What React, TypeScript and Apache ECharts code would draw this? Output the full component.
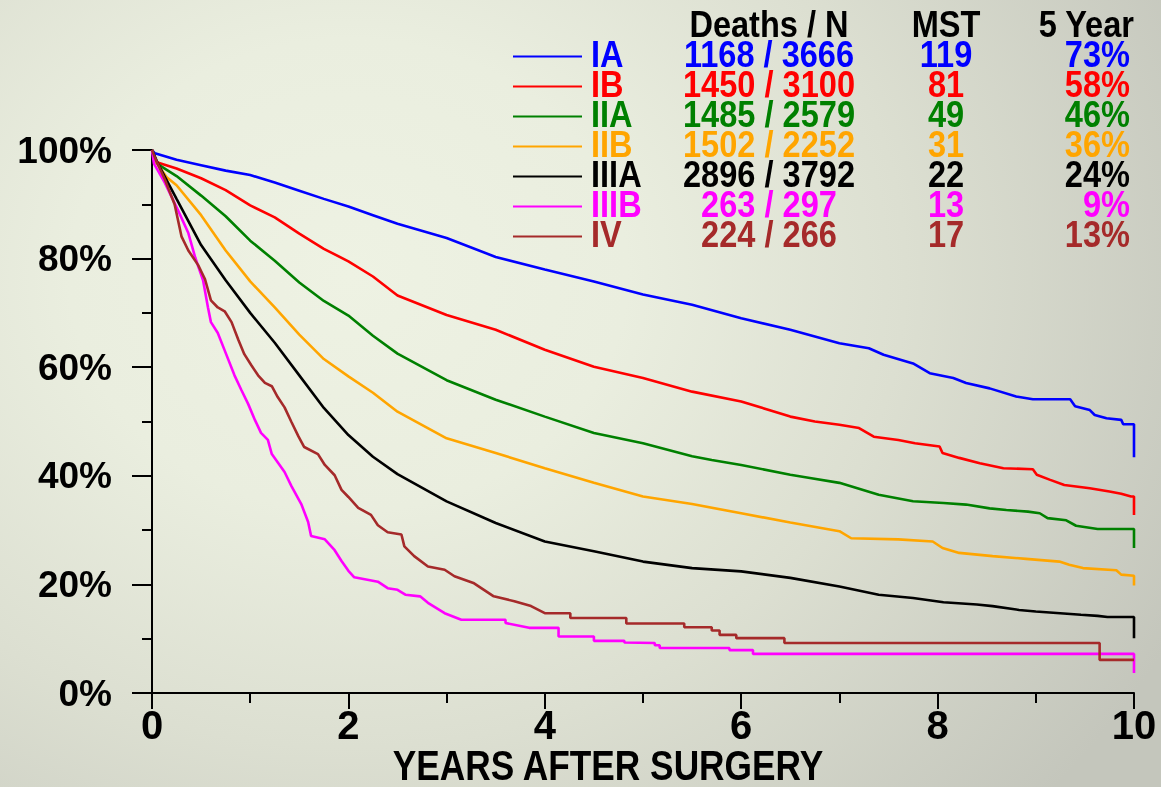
import React, { useEffect, useRef } from "react";
import * as echarts from "echarts";

// ---------- DATA ----------
const stages = ["IA", "IB", "IIA", "IIB", "IIIA", "IIIB", "IV"];
const stageColors = ["#0000ff", "#ff0000", "#008000", "#ffa500", "#000000", "#ff00ff", "#a52a2a"];
const deathsN = ["1168 / 3666", "1450 / 3100", "1485 / 2579", "1502 / 2252", "2896 / 3792", "263 / 297", "224 / 266"];
const mst = ["119", "81", "49", "31", "22", "13", "17"];
const fiveYear = ["73%", "58%", "46%", "36%", "24%", "9%", "13%"];
const headers = ["Deaths / N", "MST", "5 Year"];
const xAxisTitle = "YEARS AFTER SURGERY";

const survIA = [[0,100],[0.03,99.4],[0.25,98.2],[0.5,97.2],[0.75,96.2],[1,95.4],[1.25,94.0],[1.5,92.5],[1.75,91.0],[2,89.6],[2.25,88.0],[2.5,86.4],[3,83.8],[3.5,80.3],[4,78.0],[4.5,75.8],[5,73.4],[5.5,71.5],[6,69.0],[6.5,66.9],[7,64.4],[7.3,63.5],[7.45,62.3],[7.75,60.7],[7.92,58.9],[8.16,58.0],[8.29,57.1],[8.53,56.1],[8.8,54.6],[8.97,54.1],[9.35,54.1],[9.4,52.8],[9.55,52.1],[9.6,51.2],[9.72,50.6],[9.87,50.3],[9.89,49.5],[10,49.5],[10,43.4]];
const survIB = [[0,100],[0.04,97.8],[0.25,96.6],[0.5,94.8],[0.75,92.6],[1,89.8],[1.25,87.6],[1.5,84.6],[1.75,81.8],[2,79.5],[2.25,76.7],[2.5,73.2],[3,69.6],[3.5,66.9],[4,63.2],[4.5,60.1],[5,58.0],[5.5,55.5],[6,53.7],[6.5,50.9],[6.75,50.0],[7,49.4],[7.2,48.8],[7.35,47.2],[7.6,46.6],[7.77,46.0],[8.02,45.4],[8.05,44.2],[8.22,43.3],[8.43,42.3],[8.67,41.4],[8.97,41.2],[9.01,40.2],[9.14,39.3],[9.29,38.3],[9.55,37.7],[9.75,37.1],[9.87,36.7],[9.97,36.2],[10,36.2],[10,32.8]];
const survIIA = [[0,100],[0.05,97.5],[0.25,95.2],[0.5,91.6],[0.75,87.8],[1,83.3],[1.25,79.6],[1.5,75.6],[1.75,72.2],[2,69.5],[2.25,65.8],[2.5,62.5],[3,57.6],[3.5,54.0],[4,50.9],[4.5,47.9],[5,46.0],[5.5,43.6],[5.7,42.9],[6,42.0],[6.5,40.2],[6.7,39.6],[7,38.7],[7.4,36.5],[7.75,35.3],[8.06,35.0],[8.29,34.7],[8.53,34.0],[8.7,33.7],[8.92,33.4],[9.04,33.1],[9.12,32.2],[9.31,31.8],[9.41,30.8],[9.63,30.2],[10,30.2],[10,26.7]];
const survIIB = [[0,100],[0.05,97.5],[0.15,95.0],[0.25,93.5],[0.5,88.0],[0.75,81.5],[1,75.8],[1.25,71.0],[1.5,66.0],[1.75,61.5],[2,58.3],[2.25,55.3],[2.5,51.8],[3,46.9],[3.5,44.2],[4,41.4],[4.5,38.7],[5,36.2],[5.5,34.8],[6,33.1],[6.5,31.4],[7,29.8],[7.12,28.5],[7.6,28.3],[7.95,27.9],[8.05,26.7],[8.22,25.8],[8.56,25.2],[8.9,24.7],[9.24,24.2],[9.34,23.6],[9.48,23.0],[9.82,22.6],[9.87,21.8],[10,21.6],[10,19.8]];
const survIIIA = [[0,100],[0.06,97.5],[0.25,91.0],[0.5,82.5],[0.75,76.0],[1,70.0],[1.25,64.5],[1.5,58.5],[1.75,52.5],[2,47.5],[2.25,43.5],[2.5,40.3],[3,35.3],[3.5,31.3],[4,27.9],[4.5,26.1],[5,24.2],[5.5,23.0],[6,22.4],[6.5,21.2],[7,19.6],[7.4,18.1],[7.75,17.5],[8.06,16.7],[8.4,16.3],[8.56,16.0],[8.83,15.3],[9.0,15.0],[9.46,14.4],[9.63,14.2],[9.73,14.0],[10,14.0],[10,10.1]];
const survIIIB = [[0,100],[0.02,97.5],[0.13,94.0],[0.27,88.7],[0.37,84.7],[0.44,80.2],[0.52,76.0],[0.57,71.0],[0.6,68.3],[0.67,66.3],[0.74,63.1],[0.84,58.5],[0.91,55.8],[0.98,53.2],[1.05,50.2],[1.11,47.9],[1.18,46.6],[1.22,44.0],[1.35,40.7],[1.42,38.1],[1.52,34.8],[1.59,31.5],[1.62,28.9],[1.76,28.3],[1.86,26.3],[1.93,24.3],[2.0,22.5],[2.06,21.3],[2.3,20.5],[2.4,19.3],[2.5,19.0],[2.58,18.1],[2.73,17.8],[2.81,16.6],[2.98,14.7],[3.15,13.5],[3.6,13.5],[3.6,12.9],[3.84,12.0],[4.14,12.0],[4.14,10.4],[4.5,10.4],[4.5,9.6],[4.81,9.6],[4.81,9.3],[5.12,9.2],[5.12,8.8],[5.17,8.8],[5.17,8.3],[5.88,8.3],[5.88,7.9],[6.12,7.9],[6.12,7.2],[10,7.2],[10,3.7]];
const survIV = [[0,100],[0.03,98.6],[0.13,94.6],[0.23,90.0],[0.3,84.1],[0.37,81.5],[0.47,78.8],[0.54,76.2],[0.6,72.3],[0.67,71.0],[0.74,70.3],[0.81,68.3],[0.88,65.0],[0.94,62.4],[1.01,60.4],[1.08,58.5],[1.15,57.1],[1.22,56.5],[1.28,54.5],[1.35,52.6],[1.42,49.9],[1.49,47.3],[1.55,45.3],[1.69,44.0],[1.76,42.0],[1.86,40.1],[1.93,37.4],[2.0,36.1],[2.1,34.1],[2.23,32.8],[2.3,30.9],[2.4,29.6],[2.54,29.2],[2.57,27.0],[2.67,25.2],[2.81,23.3],[2.98,22.7],[3.08,21.5],[3.28,20.2],[3.38,19.0],[3.48,17.8],[3.69,16.9],[3.86,16.0],[4.0,14.7],[4.26,14.7],[4.26,13.8],[4.83,13.8],[4.83,12.8],[5.42,12.8],[5.42,12.1],[5.7,12.1],[5.7,11.5],[5.78,11.5],[5.78,10.7],[5.95,10.7],[5.95,10.1],[6.44,10.1],[6.44,9.2],[9.65,9.2],[9.65,6.1],[10,6.1]];

const survival = [survIA, survIB, survIIA, survIIB, survIIIA, survIIIB, survIV];

// ---------- STYLE / LAYOUT ----------
const FONT = '"Liberation Sans", Arial, Helvetica, sans-serif';
const W = 1161;
const H = 787;

export default function App() {
  const ref = useRef<HTMLDivElement>(null);

  useEffect(() => {
    if (!ref.current) return;
    const chart = echarts.init(ref.current, null, { renderer: "svg" });

    const legendFontSize = 37;
    const squeeze = 0.88;
    const rowY0 = 54;
    const rowStep = 30;
    const graphics: any[] = [];

    const addText = (text: string, x: number, y: number, color: string, align: string, size: number, sx: number) => {
      graphics.push({
        type: "text",
        x,
        y,
        scaleX: sx,
        silent: true,
        style: {
          text,
          fill: color,
          fontFamily: FONT,
          fontWeight: "bold",
          fontSize: size,
          align,
          verticalAlign: "middle",
        },
      });
    };

    // header
    addText(headers[0], 769, 24, "#000", "center", legendFontSize, squeeze);
    addText(headers[1], 946, 24, "#000", "center", legendFontSize, squeeze);
    addText(headers[2], 1134, 24, "#000", "right", legendFontSize, squeeze);

    stages.forEach((s, i) => {
      const cy = rowY0 + i * rowStep;
      const c = stageColors[i];
      graphics.push({
        type: "line",
        silent: true,
        shape: { x1: 513, y1: cy + 2.5, x2: 582, y2: cy + 2.5 },
        style: { stroke: c, lineWidth: 2 },
      });
      addText(s, 591, cy, c, "left", legendFontSize, squeeze);
      addText(deathsN[i], 769, cy, c, "center", legendFontSize, squeeze);
      addText(mst[i], 946, cy, c, "center", legendFontSize, squeeze);
      addText(fiveYear[i], 1130, cy, c, "right", legendFontSize, squeeze);
    });

    addText(xAxisTitle, 608, 765, "#000", "center", 42, 0.84);

    const axisLineStyle = { color: "#000", width: 2 };

    chart.setOption({
      animation: false,
      backgroundColor: "transparent",
      grid: { left: 152, right: 27, top: 150, bottom: 94 },
      xAxis: {
        type: "value",
        min: 0,
        max: 10,
        interval: 2,
        axisLine: { show: true, onZero: false, lineStyle: axisLineStyle },
        axisTick: { show: true, length: 16, lineStyle: axisLineStyle },
        minorTick: { show: true, splitNumber: 2, length: 10, lineStyle: axisLineStyle },
        splitLine: { show: false },
        minorSplitLine: { show: false },
        axisLabel: {
          color: "#000",
          fontFamily: FONT,
          fontWeight: "bold",
          fontSize: 40,
          margin: 12,
        },
      },
      yAxis: {
        type: "value",
        min: 0,
        max: 100,
        interval: 20,
        axisLine: { show: true, lineStyle: axisLineStyle },
        axisTick: { show: true, length: 20, lineStyle: axisLineStyle },
        minorTick: { show: true, splitNumber: 2, length: 10, lineStyle: axisLineStyle },
        splitLine: { show: false },
        minorSplitLine: { show: false },
        axisLabel: {
          formatter: "{value}%",
          color: "#000",
          fontFamily: FONT,
          fontWeight: "bold",
          fontSize: 37,
          margin: 40,
        },
      },
      graphic: graphics,
      series: stages.map((s, i) => ({
        name: s,
        type: "line",
        data: survival[i],
        showSymbol: false,
        symbol: "none",
        lineStyle: { color: stageColors[i], width: 2.6 },
        itemStyle: { color: stageColors[i] },
        emphasis: { disabled: true },
        z: 2 + i,
      })),
    });

    return () => {
      chart.dispose();
    };
  }, []);

  return (
    <div
      ref={ref}
      style={{
        position: "fixed",
        left: 0,
        top: 0,
        width: W,
        height: H,
        background:
          "radial-gradient(ellipse 80% 100% at 30% 35%, #eef2e3 0%, #eaeedf 30%, #dcdfd1 60%, #c4c6bc 100%)",
      }}
    />
  );
}
